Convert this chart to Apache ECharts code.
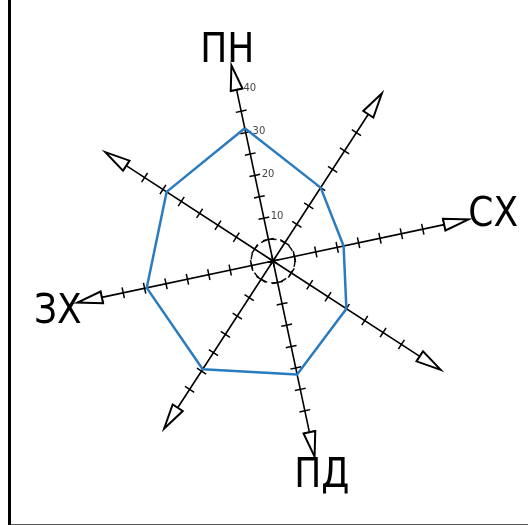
<!DOCTYPE html>
<html>
<head>
<meta charset="utf-8">
<script src="https://cdn.jsdelivr.net/npm/echarts@6/dist/echarts.min.js"></script>
<style>
html,body{margin:0;padding:0;background:#fff;}
#chart{width:528px;height:525px;}
</style>
</head>
<body>
<div id="chart"></div>
<script>
// Directions, counterclockwise starting from north (ПН)
const directions = ['ПН', '', 'ЗХ', '', 'ПД', '', 'СХ', ''];
const values = [31, 29, 29.5, 29.5, 26.5, 20, 16.5, 20];
const axisMax = 40;
const tickLabels = [10, 20, 30, 40];

const chart = echarts.init(document.getElementById('chart'), null, {renderer: 'canvas'});

const center = [273, 261];
const radius = 175;
const startAngle = 102;

const nameStyleKey = {'ПН': 'n', 'ЗХ': 'w', 'ПД': 's', 'СХ': 'e'};

function indicators(withNames) {
  return directions.map(function (d, i) {
    const ind = {name: withNames ? d : '', max: axisMax, min: 0};
    if (withNames && i === 0) {
      ind.axisLabel = {
        show: true,
        color: '#444',
        fontSize: 10,
        fontFamily: 'DejaVu Sans',
        margin: -7,
        align: 'left',
        verticalAlign: 'middle',
        formatter: function (v) { return tickLabels.indexOf(v) >= 0 ? String(v) : ''; }
      };
    }
    return ind;
  });
}

const splitColors = ['rgba(0,0,0,0)', '#111'];
for (let i = 0; i < 8; i++) splitColors.push('rgba(0,0,0,0)');

const nameFont = {
  color: '#000',
  fontSize: 40,
  fontWeight: 'condensed',
  fontFamily: 'DejaVu Sans'
};

const option = {
  backgroundColor: '#fff',
  animation: false,
  grid: {left: 9.5, right: -20, top: -20, bottom: 0.5, show: false},
  xAxis: {
    type: 'value', min: 0, max: 1,
    axisLine: {show: true, onZero: false, lineStyle: {color: '#222', width: 1.5}},
    axisTick: {show: false}, axisLabel: {show: false}, splitLine: {show: false}
  },
  yAxis: {
    type: 'value', min: 0, max: 1,
    axisLine: {show: true, onZero: false, lineStyle: {color: '#000', width: 3}},
    axisTick: {show: false}, axisLabel: {show: false}, splitLine: {show: false}
  },
  radar: [
    {
      center: center,
      radius: radius,
      startAngle: startAngle,
      splitNumber: 8,
      shape: 'circle',
      indicator: indicators(true),
      nameGap: 45,
      axisName: {
        color: '#000',
        fontSize: 40,
        align: 'center',
        verticalAlign: 'middle',
        formatter: function (name) {
          const k = nameStyleKey[name];
          return k ? '{' + k + '|' + name + '}' : '';
        },
        rich: {
          n: Object.assign({padding: [12, 0, 0, 0]}, nameFont),
          w: Object.assign({padding: [12, 0, 0, 0]}, nameFont),
          s: Object.assign({padding: [0, 0, 0, 6]}, nameFont),
          e: Object.assign({padding: [0, 0, 0, 10]}, nameFont)
        }
      },
      axisLine: {
        show: true,
        symbol: ['none', 'emptyTriangle'],
        symbolSize: [12, 25],
        symbolOffset: [0, 12.5],
        lineStyle: {color: '#000', width: 1.6}
      },
      axisTick: {show: true, inside: false, length: 5.5, lineStyle: {color: '#000', width: 1.5}},
      axisLabel: {show: false},
      splitLine: {show: true, lineStyle: {color: splitColors, width: 1.5, type: [6, 4]}},
      splitArea: {show: false}
    },
    {
      center: center,
      radius: radius,
      startAngle: startAngle,
      splitNumber: 8,
      shape: 'circle',
      indicator: indicators(false),
      axisLine: {show: false},
      axisTick: {show: true, inside: false, length: -5.5, lineStyle: {color: '#000', width: 1.5}},
      axisLabel: {show: false},
      splitLine: {show: false},
      splitArea: {show: false}
    }
  ],
  series: [
    {
      type: 'radar',
      radarIndex: 0,
      symbol: 'none',
      lineStyle: {color: '#2a7bbf', width: 2.5},
      z: 5,
      data: [{value: values, name: 'wind'}]
    }
  ]
};

chart.setOption(option);
</script>
</body>
</html>
